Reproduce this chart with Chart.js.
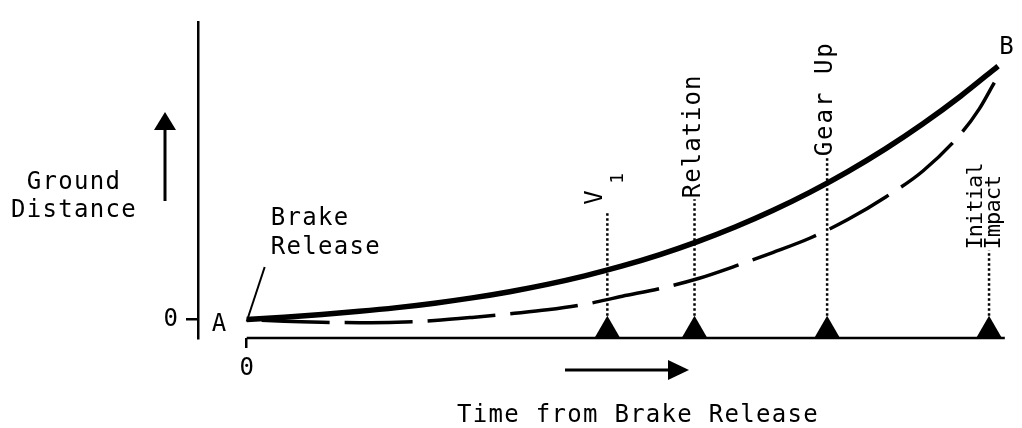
<!DOCTYPE html>
<html><head><meta charset="utf-8">
<script src="https://cdn.jsdelivr.net/npm/chart.js@4/dist/chart.umd.min.js"></script>
<style>html,body{margin:0;padding:0;background:#fff;}canvas{display:block;}</style>
</head><body>
<canvas id="c" width="1022" height="428"></canvas>
<script>
// ---- data (time from brake release vs ground distance, arbitrary units) ----
const solidTime      = [0, 5, 10, 15, 20, 25, 30, 35, 40, 45, 50, 55, 60, 65, 70, 75, 80, 85, 90, 95, 100];
const solidDistance  = [0, 0.93, 1.99, 3.23, 4.70, 6.46, 8.54, 11.0, 13.89, 17.26, 21.15, 25.62, 30.72, 36.49, 42.99, 50.27, 58.37, 67.33, 77.24, 88.11, 100];
const dashedTime     = [0, 5, 10, 15, 20, 25, 30, 35, 40, 45, 50, 55, 60, 65, 70, 75, 80, 85, 90, 95, 97.5, 99.5];
const dashedDistance = [0, -0.69, -1.07, -1.23, -1.07, -0.38, 0.84, 2.30, 3.83, 6.0, 9.2, 12.26, 16.09, 21.07, 26.44, 32.18, 39.46, 48.28, 58.62, 73.18, 83.14, 93.49];
const eventNames     = ['V1', 'Relation', 'Gear Up', 'Initial Impact'];
const eventTime      = [48.0, 59.6, 77.25, 98.8];
const eventLineTop   = [42.9, 47.5, 64.0, 27.2];
const eventLineBottom = 1.5;
const markerLevel    = -4.4;
const baselineLevel  = -7.28;
const baselineEnd    = 100.9;
const xTickValues = [0];
const xTickLabels = ['0'];
const yTickValues = [0];
const yTickLabels = ['0'];
const startLabel = 'A';
const endLabel = 'B';
const xTitle = 'Time from Brake Release';
const yTitle = ['Ground', 'Distance'];
const startNote = ['Brake', 'Release'];

const FONT = '"DejaVu Sans Mono", monospace';
const BLACK = '#000';

const pts = (xs, ys) => xs.map((x, i) => ({x, y: ys[i]}));

const datasets = [
  {data: pts(solidTime, solidDistance), borderColor: BLACK, borderWidth: 5.5, pointRadius: 0,
   cubicInterpolationMode: 'monotone', fill: false},
  {data: pts(dashedTime, dashedDistance), borderColor: BLACK, borderWidth: 3.5, pointRadius: 0,
   cubicInterpolationMode: 'monotone', borderDash: [68, 15], borderDashOffset: -15, fill: false},
  {data: [{x: 0, y: baselineLevel}, {x: baselineEnd, y: baselineLevel}], borderColor: BLACK, borderWidth: 2.5,
   pointRadius: 0, clip: false},
  {type: 'scatter', data: eventTime.map(t => ({x: t, y: markerLevel})), pointStyle: 'triangle', radius: 15,
   backgroundColor: BLACK, borderColor: BLACK, borderWidth: 0, clip: false}
];
eventTime.forEach((t, i) => {
  datasets.push({data: [{x: t, y: eventLineBottom}, {x: t, y: eventLineTop[i]}], borderColor: BLACK,
    borderWidth: 2.5, borderDash: [2.5, 2.5], pointRadius: 0});
});

function text(ctx, s, x, y, size, align, spacing) {
  ctx.save();
  ctx.font = size + 'px ' + FONT;
  ctx.fillStyle = BLACK;
  ctx.textAlign = align || 'center';
  ctx.textBaseline = 'alphabetic';
  if ('letterSpacing' in ctx) ctx.letterSpacing = (spacing === undefined ? 1.3 : spacing) + 'px';
  ctx.fillText(s, x, y);
  ctx.restore();
}
function vtext(ctx, s, x, y, size, spacing) {
  ctx.save();
  ctx.translate(x, y);
  ctx.rotate(-Math.PI / 2);
  text(ctx, s, 0, 0, size, 'left', spacing);
  ctx.restore();
}

const annotations = {
  id: 'annotations',
  afterDraw(chart) {
    const ctx = chart.ctx, xs = chart.scales.x, ys = chart.scales.y;
    const X = v => xs.getPixelForValue(v), Y = v => ys.getPixelForValue(v);
    ctx.save();
    ctx.strokeStyle = BLACK; ctx.fillStyle = BLACK;
    // y title + up arrow
    text(ctx, yTitle[0], 74, 189, 24);
    text(ctx, yTitle[1], 74, 217, 24);
    ctx.lineWidth = 3;
    ctx.beginPath(); ctx.moveTo(165, 201); ctx.lineTo(165, 126); ctx.stroke();
    ctx.beginPath(); ctx.moveTo(165, 112); ctx.lineTo(154, 130); ctx.lineTo(176, 130); ctx.closePath(); ctx.fill();
    // x title + right arrow
    text(ctx, xTitle, 638, 422, 24);
    ctx.beginPath(); ctx.moveTo(565, 370); ctx.lineTo(672, 370); ctx.stroke();
    ctx.beginPath(); ctx.moveTo(689, 370); ctx.lineTo(668, 360); ctx.lineTo(668, 380); ctx.closePath(); ctx.fill();
    // start / end labels
    text(ctx, startLabel, X(0) - 27, Y(0) + 11, 24);
    text(ctx, endLabel, X(100) + 9, Y(100) - 12, 24);
    // brake release note + leader
    text(ctx, startNote[0], X(0) + 24, 225, 24, 'left');
    text(ctx, startNote[1], X(0) + 24, 254, 24, 'left');
    ctx.lineWidth = 2;
    ctx.beginPath(); ctx.moveTo(X(0), Y(0) + 2); ctx.lineTo(X(0) + 18, 267); ctx.stroke();
    // event labels (rotated)
    eventTime.forEach((t, i) => {
      const px = X(t), top = Y(eventLineTop[i]);
      const name = eventNames[i];
      if (name === 'V1') {
        vtext(ctx, 'V', px - 5, top - 6, 24);
        vtext(ctx, '1', px + 16, top - 27, 18);
      } else if (name === 'Initial Impact') {
        const parts = name.split(' ');
        vtext(ctx, parts[0], px - 7, top - 1, 22, -0.9);
        vtext(ctx, parts[1], px + 11, top - 1, 22, -0.9);
      } else {
        vtext(ctx, name, px + 5, top - 1, 24, name === 'Gear Up' ? 2 : 1.0);
      }
    });
    ctx.restore();
  }
};

new Chart(document.getElementById('c'), {
  type: 'line',
  data: {datasets},
  plugins: [annotations],
  options: {
    responsive: false, animation: false, devicePixelRatio: 1,
    layout: {padding: {top: 13, right: 10, left: 0, bottom: 0}},
    plugins: {legend: {display: false}, tooltip: {enabled: false}},
    scales: {
      x: {
        type: 'linear', min: -6.48, max: 101.19,
        border: {display: false},
        grid: {drawOnChartArea: false, drawTicks: true, tickLength: 10, color: BLACK, tickWidth: 2.5, lineWidth: 2.5},
        ticks: {color: BLACK, padding: 6, font: {family: FONT, size: 24}, maxRotation: 0,
                callback: v => xTickLabels[xTickValues.indexOf(v)]},
        afterBuildTicks: s => { s.ticks = xTickValues.map(v => ({value: v})); },
        afterFit: s => { s.height = 90; }
      },
      y: {
        type: 'linear', min: baselineLevel, max: 117.24,
        border: {display: true, color: BLACK, width: 2.5},
        grid: {drawOnChartArea: false, drawTicks: true, tickLength: 12, color: BLACK, tickWidth: 2.5, lineWidth: 2.5},
        ticks: {color: BLACK, padding: 8, font: {family: FONT, size: 24},
                callback: v => yTickLabels[yTickValues.indexOf(v)]},
        afterBuildTicks: s => { s.ticks = yTickValues.map(v => ({value: v})); },
        afterFit: s => { s.width = 198; }
      }
    }
  }
});
</script>
</body></html>
